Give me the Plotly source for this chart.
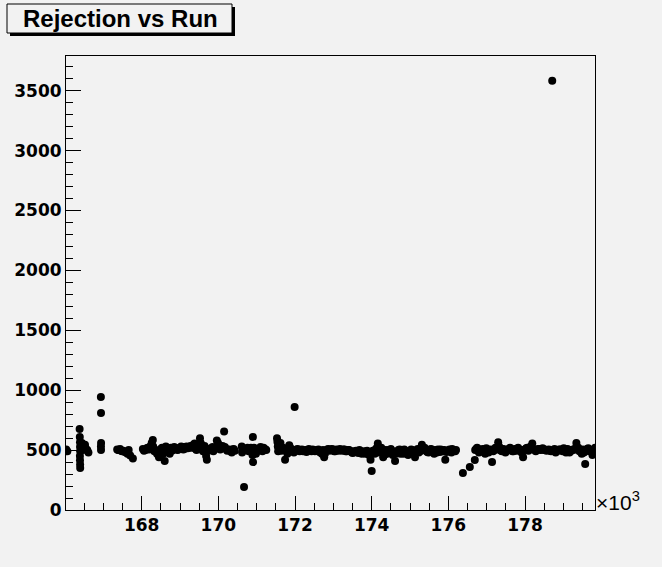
import plotly.graph_objects as go

# ---- data: run number vs rejection ----
runs = [
    166030, 166060, 166380, 166385, 166390, 166392, 166395, 166388, 166390, 166393, 166395, 166440, 166480, 166520, 166530, 166580, 166610,
    166935, 166938, 166940, 166936, 166939,
    167360, 167410, 167460, 167520, 167600, 167660, 167700, 167770,
    168030, 168100, 168160, 168290, 168300, 168330, 168400, 168450, 168500, 168560, 168600, 168630, 168680,
    168760, 168820, 168880, 168940, 169000, 169060, 169110, 169170, 169230, 169280, 169350, 169410, 169450, 169520, 169540,
    169620, 169660, 169700, 169780, 169850, 169900, 169960, 170020, 170080, 170150, 170200, 170260, 170320, 170380, 170430,
    170610, 170620, 170670, 170700, 170760, 170820, 170900, 170905, 170890, 170950, 171010, 171070, 171130, 171180, 171230,
    171530, 171540, 171550, 171560, 171620, 171680, 171740, 171780, 171800, 171850, 171900, 171950, 171990, 172040, 172100, 172150, 172210,
    172330, 172400, 172460, 172520, 172580, 172640, 172700, 172760, 172810, 172870, 172930, 172990, 173050, 173110, 173170, 173230, 173290,
    173350, 173410, 173470, 173530, 173590, 173650, 173710, 173770, 173830, 173880, 173930, 173970, 174000, 174060, 174110, 174170, 174220,
    174160, 174250, 174300, 174300, 174350, 174400, 174450, 174500, 174550, 174610, 174650, 174700, 174750, 174800, 174850, 174900, 174950,
    175000, 175050, 175100, 175130, 175150, 175200, 175250, 175310, 175350, 175400, 175450, 175500, 175550, 175600, 175650, 175700, 175750,
    175800, 175850, 175900, 175920, 175950, 176000, 176050, 176100, 176150, 176200,
    176380, 176560, 176690,
    176700, 176750, 176800, 176850, 176900, 176960, 177020, 177080, 177140, 177200, 177260, 177300, 177350, 177400, 177460, 177520, 177580,
    177640, 177700, 177760, 177820, 177880, 177950, 178000, 178060, 178120, 178190, 178250, 178310, 178370, 178430, 178490, 178560, 178620,
    178680, 178710, 178740, 178800, 178860, 178920, 178980, 179040, 179100, 179160, 179220, 179280, 179340, 179360, 179420, 179480, 179570,
    179620, 179680, 179740, 179800, 179850,
]
rejection = [
    505, 490, 676, 610, 565, 525, 490, 450, 415, 380, 350, 560, 540, 545, 520, 500, 480,
    943, 810, 560, 530, 500,
    505, 500, 495, 495, 480, 500, 455, 430,
    510, 500, 520, 584, 530, 490, 470, 440, 510, 470, 410, 530, 490,
    520, 505, 515, 500, 520, 525, 510, 530, 520, 535, 545, 510, 530, 600, 560,
    520, 500, 420, 510, 525, 505, 580, 540, 520, 655, 510, 500, 490, 505, 495,
    530, 480, 192, 500, 520, 510, 610, 400, 460, 500, 490, 510, 500, 520, 505,
    600, 570, 530, 490, 560, 520, 420, 500, 470, 540, 510, 490, 860, 505, 495, 500, 490,
    500, 495, 505, 490, 500, 485, 470, 440, 495, 510, 500, 505, 490, 500, 510, 495, 505,
    490, 500, 485, 480, 495, 475, 490, 480, 470, 495, 460, 420, 326, 480, 510, 490, 500,
    555, 520, 480, 440, 500, 470, 490, 510, 460, 410, 485, 500, 470, 490, 505, 480, 460,
    490, 500, 475, 440, 495, 510, 490, 545, 500, 505, 485, 495, 510, 490, 500, 480, 495,
    505, 490, 500, 420, 485, 495, 500, 510, 495, 500,
    309, 359, 417,
    500, 520, 480, 500, 510, 470, 505, 495, 400, 500, 520, 565, 510, 490, 505, 495, 510,
    500, 490, 505, 520, 500, 440, 505, 520, 510, 555, 505, 500, 510, 505, 500, 495, 505,
    490, 3583, 500, 480, 495, 505, 490, 500, 510, 480, 500, 510, 560, 520, 490, 470, 385,
    510, 490, 500, 470, 500,
]

# additional runs in the dense band
runs_band = [
    166410, 166460, 166500, 166550, 167385, 167435, 167490, 167560, 167630,
    168060, 168130, 168190, 168220, 168260, 168360, 168420, 168480, 168530, 168650,
    168710, 168730, 168790, 168850, 168910, 168970, 169030, 169085, 169140, 169200,
    169255, 169310, 169380, 169430, 169480, 169500, 169580, 169600, 169640, 169680,
    169740, 169810, 169870, 169930, 169990, 170050, 170110, 170170, 170230, 170290,
    170350, 170400,
    170640, 170730, 170790, 170850, 170930, 170980, 171040, 171100, 171150, 171210, 171250,
    171580, 171600, 171650, 171710, 171820, 171870, 171920, 171970, 172070, 172120,
    172180, 172240, 172270, 172300, 172360, 172430, 172490, 172550, 172610, 172670,
    172730, 172780, 172840, 172900, 172960, 173020, 173080, 173140, 173200, 173260,
    173320, 173380, 173440, 173500, 173560, 173620, 173680, 173740, 173800, 173860,
    173910, 174030, 174080, 174140, 174190, 174270, 174330, 174380, 174430, 174480,
    174530, 174580, 174630, 174680, 174730, 174780, 174830, 174880, 174930, 174980,
    175030, 175080, 175180, 175230, 175280, 175330, 175380, 175430, 175480, 175530,
    175580, 175630, 175680, 175730, 175780, 175830, 175880, 175980, 176030, 176080,
    176130, 176180,
    176725, 176775, 176825, 176875, 176930, 176990, 177050, 177110, 177170, 177230,
    177280, 177325, 177375, 177430, 177490, 177550, 177610, 177670, 177730, 177790,
    177850, 177910, 177975, 178030, 178090, 178150, 178220, 178280, 178340, 178400,
    178460, 178520, 178590, 178650, 178770, 178830, 178890, 178950, 179010, 179070,
    179130, 179190, 179250, 179310, 179390, 179450, 179510, 179540, 179600, 179650,
    179710, 179770, 179820, 179870, 179760, 179830,
]
rejection_band = [
    530, 500, 520, 505, 500, 510, 490, 485, 470,
    495, 515, 505, 530, 560, 500, 480, 450, 520, 505,
    500, 470, 495, 525, 505, 515, 530, 505, 525, 515,
    530, 520, 555, 500, 525, 540, 505, 490, 535, 450,
    495, 515, 490, 520, 560, 505, 535, 525, 495, 505,
    480, 510,
    505, 510, 490, 520, 520, 470, 500, 525, 490, 510, 500,
    540, 510, 495, 515, 490, 520, 500, 480, 510, 490,
    505, 495, 500, 485, 510, 490, 500, 495, 505, 480,
    500, 470, 505, 495, 510, 490, 505, 495, 500, 505,
    490, 500, 495, 475, 490, 485, 500, 470, 490, 480,
    475, 495, 470, 520, 480, 505, 460, 490, 500, 475,
    495, 480, 470, 490, 505, 480, 470, 495, 470, 485,
    505, 490, 500, 480, 495, 500, 520, 490, 480, 505,
    495, 470, 495, 505, 485, 500, 490, 490, 505, 480,
    500, 490,
    510, 495, 505, 490, 500, 515, 480, 505, 490, 520,
    505, 530, 495, 510, 480, 505, 520, 490, 510, 495,
    505, 480, 500, 515, 495, 530, 505, 490, 510, 500,
    515, 505, 500, 495, 510, 495, 505, 500, 515, 480,
    505, 490, 500, 505, 520, 495, 505, 480, 500, 515,
    500, 485, 510, 490, 460, 520,
]
assert len(runs) == len(rejection)
assert len(runs_band) == len(rejection_band)

x_tick_vals = [168000, 170000, 172000, 174000, 176000, 178000]
x_tick_text = ["168", "170", "172", "174", "176", "178"]
y_tick_vals = [0, 500, 1000, 1500, 2000, 2500, 3000, 3500]
y_tick_text = ["0", "500", "1000", "1500", "2000", "2500", "3000", "3500"]
title_text = "Rejection vs Run"

BG = "#f2f2f2"
W, H = 662, 567
L, R, T, B = 66, 595, 56, 510
pw, ph = R - L, B - T


def px(x):
    return (x - L) / pw


def py(y):
    return (B - y) / ph


all_runs = runs + runs_band
all_rej = rejection + rejection_band

fig = go.Figure()
fig.add_trace(go.Scatter(
    x=all_runs, y=all_rej, mode="markers",
    marker=dict(symbol="circle", size=8, color="black", line=dict(width=0)),
    showlegend=False, hoverinfo="x+y",
))

tick_font = dict(family="DejaVu Sans, Arial, sans-serif", size=17, color="black", weight="bold")

fig.update_layout(
    width=W, height=H,
    margin=dict(l=L, r=W - R, t=T, b=H - B, pad=0),
    paper_bgcolor=BG, plot_bgcolor=BG,
    showlegend=False,
    xaxis=dict(
        range=[166025, 179826], showgrid=False, zeroline=False,
        showline=True, linecolor="black", linewidth=1, mirror=True,
        ticks="inside", ticklen=14, tickwidth=1, tickcolor="black",
        tickvals=x_tick_vals, ticktext=x_tick_text, tickfont=tick_font,
        minor=dict(ticks="inside", ticklen=7, tickwidth=1, tickcolor="black", dtick=500, tick0=0, showgrid=False),
    ),
    yaxis=dict(
        range=[0, 3790], showgrid=False, zeroline=False,
        showline=True, linecolor="black", linewidth=1, mirror=True,
        ticks="inside", ticklen=15, tickwidth=1, tickcolor="black",
        tickvals=y_tick_vals, ticktext=y_tick_text, tickfont=tick_font,
        minor=dict(ticks="inside", ticklen=7, tickwidth=1, tickcolor="black", dtick=100, tick0=0, showgrid=False),
    ),
)

# title box with shadow (ROOT style)
fig.add_shape(type="rect", xref="paper", yref="paper",
              x0=px(10), x1=px(235), y0=py(36), y1=py(7),
              fillcolor="black", line=dict(width=0), layer="above")
fig.add_shape(type="rect", xref="paper", yref="paper",
              x0=px(7), x1=px(232), y0=py(33), y1=py(4),
              fillcolor=BG, line=dict(color="black", width=1), layer="above")
fig.add_annotation(xref="paper", yref="paper", x=px(120), y=py(19),
                   text=title_text, showarrow=False, xanchor="center", yanchor="middle",
                   font=dict(family="Liberation Sans, Arial, sans-serif", size=24, color="black", weight="bold"))

# x10^3 exponent label
fig.add_annotation(xref="paper", yref="paper", x=px(594), y=py(516),
                   text="×10<sup>3</sup>", showarrow=False, xanchor="left", yanchor="bottom",
                   font=dict(family="Liberation Sans, Arial, sans-serif", size=21, color="black"))

fig.write_html("out.html", config={"displayModeBar": False},
               post_script="document.body.style.margin='0';document.body.style.background='#f2f2f2';")
